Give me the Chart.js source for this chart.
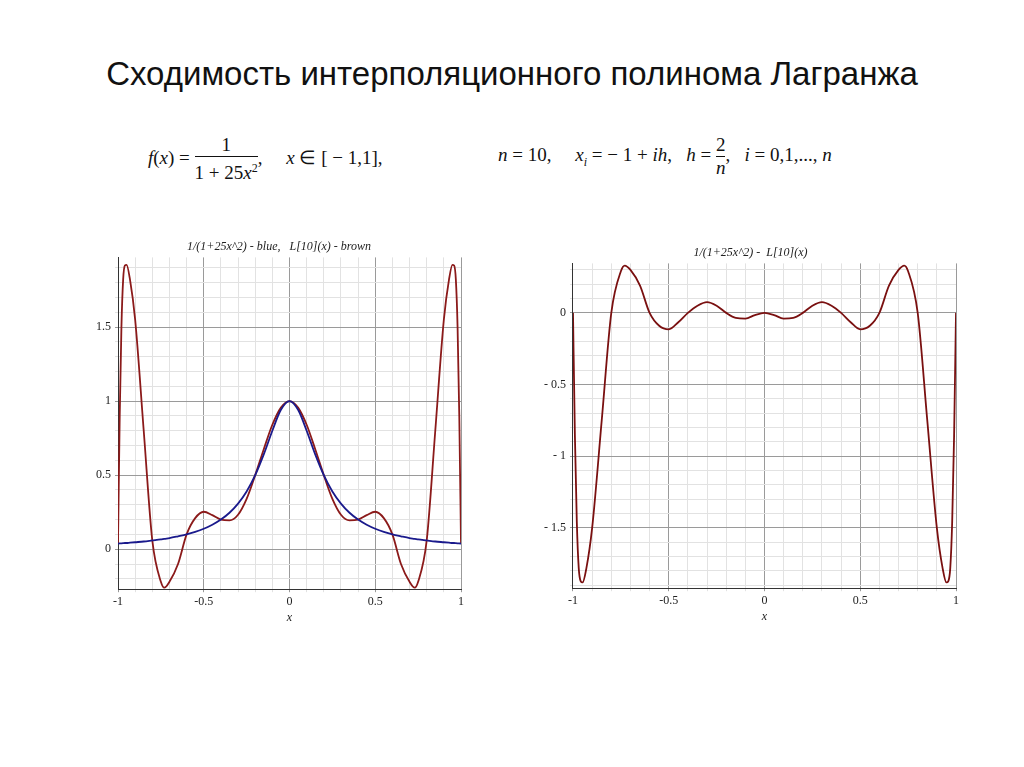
<!DOCTYPE html>
<html><head><meta charset="utf-8">
<script src="https://cdn.jsdelivr.net/npm/chart.js@4"></script>
<style>
body{margin:0;background:#fff;width:1024px;height:767px;position:relative;overflow:hidden;font-family:"Liberation Sans",Arial,sans-serif}
h1{position:absolute;left:0;width:1024px;top:55px;margin:0;text-align:center;font-weight:normal;font-size:33px;color:#111}
.f{position:absolute;font-family:"Liberation Serif",serif;font-size:19px;color:#111;white-space:nowrap}
.fr{display:inline-block;vertical-align:middle;text-align:center}
.fr span{display:block;line-height:22px}
.fr .n{border-bottom:1px solid #111}
.box{position:absolute}
</style></head><body>
<h1>Сходимость интерполяционного полинома Лагранжа</h1>
<div class="f" style="left:148px;top:134px"><i>f</i>(<i>x</i>)&nbsp;=&nbsp;<span class="fr"><span class="n">&nbsp;&nbsp;1&nbsp;&nbsp;</span><span>1 + 25<i>x</i><sup style="font-size:12px">2</sup></span></span>,&nbsp;&nbsp;&nbsp;&nbsp;&nbsp;<i>x</i> ∈ [ − 1,1],</div>
<div class="f" style="left:498px;top:134px"><i>n</i> = 10,&nbsp;&nbsp;&nbsp;&nbsp;&nbsp;<i>x<sub style="font-size:12px">i</sub></i> = − 1 + <i>ih</i>,&nbsp;&nbsp;&nbsp;<i>h</i> = <span class="fr"><span class="n">2</span><span><i>n</i></span></span>,&nbsp;&nbsp;&nbsp;<i>i</i> = 0,1,...,&nbsp;<i>n</i></div>
<div class="box" style="left:92px;top:240px;width:374px;height:385px"><canvas id="c1"></canvas></div>
<div class="box" style="left:540px;top:246px;width:421px;height:378px"><canvas id="c2"></canvas></div>
<script>
const xs=[-1,-0.99,-0.98,-0.97,-0.96,-0.95,-0.93,-0.9,-0.85,-0.8,-0.75,-0.73,-0.7,-0.65,-0.6,-0.55,-0.5,-0.45,-0.4,-0.35,-0.3,-0.25,-0.2,-0.15,-0.1,-0.05,0,
0.05,0.1,0.15,0.2,0.25,0.3,0.35,0.4,0.45,0.5,0.55,0.6,0.65,0.7,0.73,0.75,0.8,0.85,0.9,0.93,0.95,0.96,0.97,0.98,0.99,1];
const fVals=[0.038,0.039,0.040,0.041,0.042,0.042,0.044,0.047,0.052,0.059,0.066,0.070,0.075,0.087,0.100,0.117,0.138,0.165,0.200,0.246,0.308,0.390,0.500,0.640,0.800,0.941,1,
0.941,0.800,0.640,0.500,0.390,0.308,0.246,0.200,0.165,0.138,0.117,0.100,0.087,0.075,0.070,0.066,0.059,0.052,0.047,0.044,0.042,0.042,0.041,0.040,0.039,0.038];
const lVals=[0.038,0.90,1.50,1.82,1.915,1.92,1.82,1.55,0.80,0.059,-0.22,-0.26,-0.22,-0.10,0.100,0.21,0.253,0.23,0.200,0.195,0.233,0.34,0.500,0.675,0.84,0.956,1,
0.956,0.84,0.675,0.500,0.34,0.233,0.195,0.200,0.23,0.253,0.21,0.100,-0.10,-0.22,-0.26,-0.22,0.059,0.80,1.55,1.82,1.92,1.915,1.82,1.50,0.90,0.038];
const errVals=[0,-0.86,-1.46,-1.78,-1.87,-1.88,-1.78,-1.50,-0.75,0,0.29,0.33,0.30,0.19,0,-0.09,-0.115,-0.065,0,0.05,0.075,0.05,0,-0.035,-0.04,-0.015,0,
-0.015,-0.04,-0.035,0,0.05,0.075,0.05,0,-0.065,-0.115,-0.09,0,0.19,0.30,0.33,0.29,0,-0.75,-1.50,-1.78,-1.88,-1.87,-1.78,-1.46,-0.86,0];
const xTicks=[-1,-0.5,0,0.5,1];
const pts=v=>xs.map((x,i)=>({x:x,y:v[i]}));
const serif='"Liberation Serif",serif';
function isMajor(v){return Math.abs(v*2-Math.round(v*2))<1e-6;}
function fmt(v,ax){const r=Math.round(v*10)/10;if(!isMajor(r))return '';if(r===0)return '0';return ax==='x'?String(r):String(r).replace('-','- ');}
function mk(id,datasets,title,ymin,ymax){
 new Chart(document.getElementById(id),{type:'scatter',
 data:{datasets:datasets.map(d=>({data:d.data,borderColor:d.c,borderWidth:1.8,showLine:true,pointRadius:0,cubicInterpolationMode:'monotone',fill:false}))},
 options:{animation:false,responsive:true,maintainAspectRatio:false,
  plugins:{legend:{display:false},tooltip:{enabled:false},
   title:{display:true,text:title,color:'#222',font:{family:serif,style:'italic',weight:'normal',size:12},padding:{top:0,bottom:3}}},
  scales:{
   x:{type:'linear',min:-1,max:1,afterBuildTicks:a=>{const t=[];for(let i=-10;i<=10;i++)t.push({value:i/10});a.ticks=t;},
      ticks:{callback:v=>fmt(v,'x'),autoSkip:false,maxRotation:0,color:'#222',font:{family:serif,size:12},padding:2},
      grid:{color:c=>isMajor(c.tick.value)?'#9a9a9a':'#e2e2e2',drawTicks:true,tickLength:3},border:{color:'#333'},
      title:{display:true,text:'x',color:'#222',font:{family:serif,style:'italic',size:12},padding:0}},
   y:{min:ymin,max:ymax,afterBuildTicks:a=>{const t=[];for(let i=Math.ceil(ymin*10);i<=Math.floor(ymax*10);i++)t.push({value:i/10});a.ticks=t;},
      ticks:{callback:v=>fmt(v,'y'),autoSkip:false,color:'#222',font:{family:serif,size:12},padding:4},
      grid:{color:c=>isMajor(c.tick.value)?'#9a9a9a':'#e2e2e2',tickLength:3},border:{color:'#333'}}
  }}});
}
mk('c1',[{data:pts(fVals),c:'#1a1a8c'},{data:pts(lVals),c:'#8b1a1a'}],'1/(1+25x^2) - blue,   L[10](x) - brown',-0.27,1.97);
mk('c2',[{data:pts(errVals),c:'#7a1010'}],'1/(1+25x^2) -  L[10](x)',-1.92,0.345);
</script></body></html>
